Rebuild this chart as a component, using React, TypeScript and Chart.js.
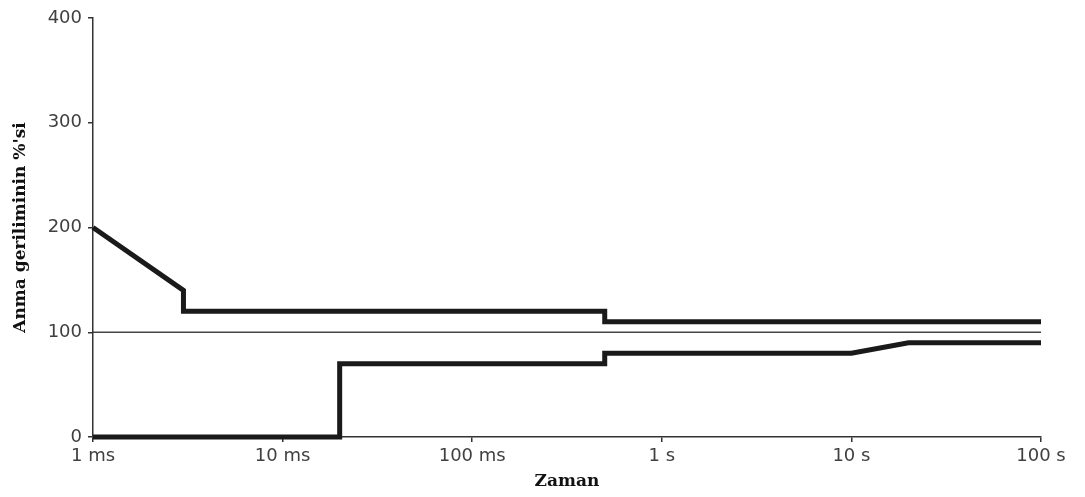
import React, { useEffect, useRef } from "react";
import { Chart, registerables } from "chart.js";

Chart.register(...registerables);

// Time axis (seconds) decade ticks and their labels
const tickValues = [0.001, 0.01, 0.1, 1, 10, 100];
const tickLabels = ["1 ms", "10 ms", "100 ms", "1 s", "10 s", "100 s"];

// Upper tolerance curve (% of rated voltage)
const upperTimes = [0.001, 0.003, 0.003, 0.5, 0.5, 100];
const upperValues = [200, 140, 120, 120, 110, 110];

// Lower tolerance curve (% of rated voltage)
const lowerTimes = [0.001, 0.02, 0.02, 0.5, 0.5, 10, 20, 100];
const lowerValues = [0, 0, 70, 70, 80, 80, 90, 90];

// Rated voltage reference line
const ratedTimes = [0.001, 100];
const ratedValues = [100, 100];

const yMin = 0;
const yMax = 400;
const yStep = 100;

const xTitle = "Zaman";
const yTitle = "Anma geriliminin %'si";

const toPoints = (xs: number[], ys: number[]) => xs.map((x, i) => ({ x, y: ys[i] }));

export default function App() {
  const canvasRef = useRef<HTMLCanvasElement | null>(null);

  useEffect(() => {
    if (!canvasRef.current) return;
    const tickFont = { family: "'DejaVu Sans', sans-serif", size: 18 };
    const titleFont = { family: "'DejaVu Serif', serif", size: 17, weight: "bold" as const };
    const axisColor = "#333333";

    const chart = new Chart(canvasRef.current, {
      type: "line",
      data: {
        datasets: [
          {
            label: "rated",
            data: toPoints(ratedTimes, ratedValues),
            borderColor: "#444444",
            borderWidth: 1.5,
            pointRadius: 0,
            tension: 0,
            clip: false,
          },
          {
            label: "upper",
            data: toPoints(upperTimes, upperValues),
            borderColor: "#1a1a1a",
            borderWidth: 5,
            pointRadius: 0,
            tension: 0,
            borderJoinStyle: "miter",
            borderCapStyle: "butt",
            clip: false,
          },
          {
            label: "lower",
            data: toPoints(lowerTimes, lowerValues),
            borderColor: "#1a1a1a",
            borderWidth: 5,
            pointRadius: 0,
            tension: 0,
            borderJoinStyle: "miter",
            borderCapStyle: "butt",
            clip: false,
          },
        ],
      },
      options: {
        animation: false,
        responsive: true,
        maintainAspectRatio: false,
        layout: { padding: { top: 18, right: 44, left: 0, bottom: 0 } },
        plugins: {
          legend: { display: false },
          tooltip: { enabled: false },
        },
        scales: {
          x: {
            type: "logarithmic",
            min: tickValues[0],
            max: tickValues[tickValues.length - 1],
            afterBuildTicks: (scale: any) => {
              scale.ticks = tickValues.map((v) => ({ value: v }));
            },
            afterFit: (scale: any) => {
              scale.height = 60;
            },
            ticks: {
              autoSkip: false,
              maxRotation: 0,
              minRotation: 0,
              padding: 4,
              color: "#404040",
              font: tickFont,
              callback: (_v: any, i: number) => tickLabels[i],
            },
            grid: {
              drawOnChartArea: false,
              drawTicks: true,
              tickLength: 5,
              color: axisColor,
              lineWidth: 1.5,
            },
            border: { display: true, color: axisColor, width: 1.5 },
            title: {
              display: true,
              text: xTitle,
              color: "#111111",
              font: titleFont,
              padding: { top: 0, bottom: 5 },
            },
          },
          y: {
            min: yMin,
            max: yMax,
            afterFit: (scale: any) => {
              scale.width = 93;
            },
            ticks: {
              stepSize: yStep,
              padding: 6,
              color: "#404040",
              font: tickFont,
            },
            grid: {
              drawOnChartArea: false,
              drawTicks: true,
              tickLength: 5,
              color: axisColor,
              lineWidth: 1.5,
            },
            border: { display: true, color: axisColor, width: 1.5 },
            title: {
              display: true,
              text: yTitle,
              color: "#111111",
              font: titleFont,
              padding: { top: 10, bottom: 0 },
            },
          },
        },
      },
    } as any);

    return () => chart.destroy();
  }, []);

  return (
    <div style={{ position: "absolute", left: 0, top: 0, width: 1085, height: 497, background: "#ffffff" }}>
      <canvas ref={canvasRef} />
    </div>
  );
}
